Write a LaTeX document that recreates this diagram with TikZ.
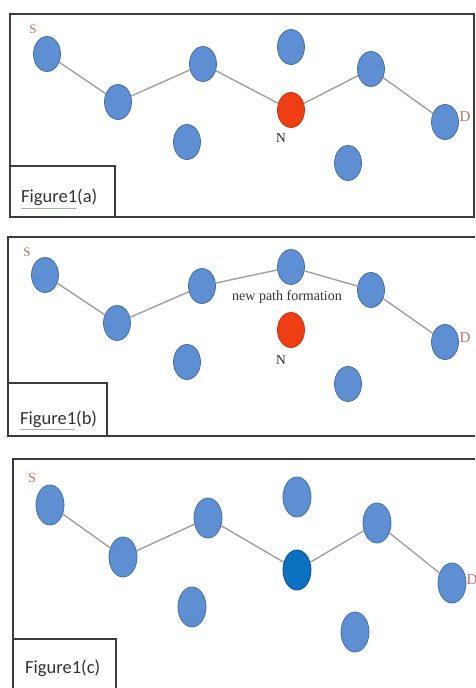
\documentclass[tikz,border=0pt]{standalone}
\usepackage{fontspec}
\setmainfont{Liberation Serif}
\newfontfamily\calib{Carlito}
\usetikzlibrary{shapes.geometric}
\definecolor{nblue}{RGB}{94,143,210}
\definecolor{nblueline}{RGB}{70,110,165}
\definecolor{nred}{RGB}{240,62,20}
\definecolor{nredline}{RGB}{200,50,20}
\definecolor{ndark}{RGB}{10,112,192}
\definecolor{ndarkline}{RGB}{10,80,140}
\definecolor{linkgray}{RGB}{160,160,160}
\definecolor{framegray}{RGB}{60,60,60}
\definecolor{sdred}{RGB}{195,110,100}
\definecolor{spellgreen}{RGB}{150,190,150}
\tikzset{
  nodeblue/.style={ellipse, fill=nblue, draw=nblueline, line width=0.8pt, minimum width=27, minimum height=35, inner sep=0pt},
  nodebig/.style={nodeblue, minimum width=28, minimum height=40},
  nodered/.style={nodeblue, fill=nred, draw=nredline},
  nodedark/.style={nodebig, fill=ndark, draw=ndarkline},
  link/.style={draw=linkgray, line width=1.4pt},
  frame/.style={draw=framegray, line width=1.8pt},
  figlabel/.style={font=\calib\fontsize{18.5}{18.5}\selectfont, text=black!80, anchor=west, inner sep=0pt},
  sdlabel/.style={text=sdred, inner sep=0pt},
  nlabel/.style={text=black!85, inner sep=0pt, font=\fontsize{13.5}{13.5}\selectfont},
  spell/.style={draw=spellgreen, line width=0.6pt}
}
\begin{document}
\begin{tikzpicture}[x=1pt,y=-1pt]
\useasboundingbox (0,0) rectangle (475,688);
\clip (0,0) rectangle (475,688);
\fill[white] (0,0) rectangle (475,688);

% ---------- Panel (a) ----------
\draw[frame] (10,14) rectangle (474,217);
\draw[frame] (10,166) rectangle (115,217);
\node[figlabel] (a-fig) at (21,197) {Figure1(a)};
\draw[spell] (21,208) -- (76,208);

\node[nodeblue] (a-s) at (47,54) {};
\node[nodeblue] (a-2) at (118,102) {};
\node[nodeblue] (a-3) at (203,64) {};
\node[nodeblue] (a-t) at (291,47) {};
\node[nodered]  (a-n) at (291,110) {};
\node[nodeblue] (a-5) at (371,69) {};
\node[nodeblue] (a-d) at (445,122) {};
\node[nodeblue] (a-l1) at (187,142) {};
\node[nodeblue] (a-l2) at (348,163) {};
\path[link] (a-s) -- (a-2) (a-2) -- (a-3) (a-3) -- (a-n) (a-n) -- (a-5) (a-5) -- (a-d);
\node[sdlabel, font=\fontsize{13}{13}\selectfont] (a-slab) at (33,29) {S};
\node[sdlabel, font=\fontsize{15}{15}\selectfont] (a-dlab) at (465,117) {D};
\node[nlabel] (a-nlab) at (281,138) {N};

% ---------- Panel (b) ----------
\draw[frame] (8,237) rectangle (478,436);
\draw[frame] (8,383) rectangle (107,436);
\node[figlabel] (b-fig) at (20,419) {Figure1(b)};
\draw[spell] (20,429) -- (75,429);

\node[nodeblue] (b-s) at (45,275) {};
\node[nodeblue] (b-2) at (117,323) {};
\node[nodeblue] (b-3) at (202,286) {};
\node[nodeblue] (b-t) at (291,267) {};
\node[nodered]  (b-n) at (291,330) {};
\node[nodeblue] (b-5) at (371,290) {};
\node[nodeblue] (b-d) at (445,342) {};
\node[nodeblue] (b-l1) at (187,362) {};
\node[nodeblue] (b-l2) at (348,384) {};
\path[link] (b-s) -- (b-2) (b-2) -- (b-3) (b-3) -- (b-t) (b-t) -- (b-5) (b-5) -- (b-d);
\node[sdlabel, font=\fontsize{13}{13}\selectfont] (b-slab) at (27,252) {S};
\node[sdlabel, font=\fontsize{15}{15}\selectfont] (b-dlab) at (465,338) {D};
\node[nlabel] (b-nlab) at (281,360) {N};
\node[text=black!80, inner sep=0pt, font=\fontsize{14}{14}\selectfont] (b-new) at (287,297) {new path formation};

% ---------- Panel (c) ----------
\draw[frame] (13,459) rectangle (478,700);
\draw[frame] (13,639) rectangle (116,700);
\node[figlabel] (c-fig) at (25,668) {Figure1(c)};

\node[nodebig] (c-s) at (50,505) {};
\node[nodebig] (c-2) at (123,557) {};
\node[nodebig] (c-3) at (208,518) {};
\node[nodebig] (c-t) at (297,497) {};
\node[nodedark] (c-m) at (297,570) {};
\node[nodebig] (c-5) at (377,523) {};
\node[nodebig] (c-d) at (452,583) {};
\node[nodebig] (c-l1) at (192,607) {};
\node[nodebig] (c-l2) at (355,632) {};
\path[link] (c-s) -- (c-2) (c-2) -- (c-3) (c-3) -- (c-m) (c-m) -- (c-5) (c-5) -- (c-d);
\node[sdlabel, font=\fontsize{14}{14}\selectfont] (c-slab) at (32,478) {S};
\node[sdlabel, font=\fontsize{15}{15}\selectfont] (c-dlab) at (472,580) {D};
\end{tikzpicture}
\end{document}
